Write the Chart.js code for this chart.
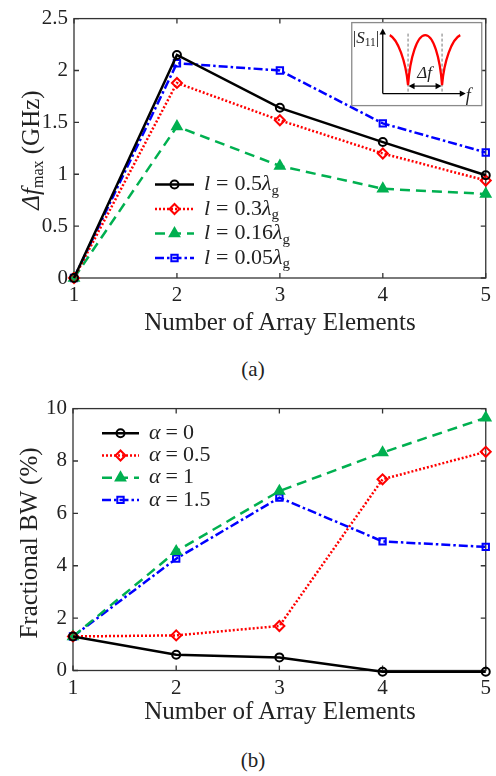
<!DOCTYPE html>
<html>
<head>
<meta charset="utf-8">
<script src="https://cdn.jsdelivr.net/npm/chart.js@4/dist/chart.umd.min.js"></script>
<style>
  html, body { margin: 0; padding: 0; background: #fff; }
  body { width: 496px; height: 776px; position: relative; overflow: hidden; font-family: "Liberation Serif", "Times New Roman", serif; color: #222; }
  .cv { position: absolute; left: 0; }
  .t { position: absolute; white-space: nowrap; line-height: 1; }
  .xt { font-size: 25px; left: 280px; transform: translateX(-50%); }
  .yt { font-size: 25px; transform: translate(-50%, -50%) rotate(-90deg); }
  .cap { font-size: 21px; left: 253px; transform: translateX(-50%); }
  sub { font-size: 64%; vertical-align: -0.28em; line-height: 0; }
</style>
</head>
<body>
<canvas id="ca" class="cv" width="496" height="310" style="top:0px;width:496px;height:310px"></canvas>
<canvas id="cb" class="cv" width="496" height="310" style="top:390px;width:496px;height:310px"></canvas>

<div class="t yt" style="left:30px;top:150px;"><i>Δf</i><sub>max</sub> (GHz)</div>
<div class="t xt" style="top:309px;">Number of Array Elements</div>
<div class="t cap" style="top:359px;">(a)</div>

<div class="t yt" style="left:28px;top:543px;">Fractional BW (%)</div>
<div class="t xt" style="top:698px;">Number of Array Elements</div>
<div class="t cap" style="top:750px;">(b)</div>

<script>
// ---------- DATA ----------
const xValues = [1, 2, 3, 4, 5];
const xTicks = [1, 2, 3, 4, 5];

// (a) Δf_max (GHz) vs number of array elements
const aNames = ['0.5', '0.3', '0.16', '0.05'];      // l = ... λg
const aBlack = [0, 2.15, 1.64, 1.31, 0.99];
const aRed   = [0, 1.88, 1.52, 1.20, 0.94];
const aGreen = [0, 1.46, 1.08, 0.86, 0.81];
const aBlue  = [0, 2.07, 2.00, 1.49, 1.21];
const aYTicks = [0, 0.5, 1, 1.5, 2, 2.5];

// (b) Fractional BW (%) vs number of array elements
const bNames = ['0', '0.5', '1', '1.5'];            // α = ...
const bBlack = [1.3, 0.6, 0.5, -0.05, -0.05];
const bRed   = [1.3, 1.34, 1.7, 7.3, 8.35];
const bGreen = [1.3, 4.55, 6.85, 8.32, 9.65];
const bBlue  = [1.3, 4.27, 6.6, 4.93, 4.72];
const bYTicks = [0, 2, 4, 6, 8, 10];

// ---------- STYLE ----------
const FONT = '"Liberation Serif", "Times New Roman", serif';
const TXT = '#222222';
const AX = '#333333';
const styles = [
  { color: '#000000', dash: [],            point: 'circle',  r: 4.0, bg: 'rgba(0,0,0,0)' },
  { color: '#ff0000', dash: [2, 2],        point: 'rectRot', r: 5.0, bg: 'rgba(0,0,0,0)' },
  { color: '#00b050', dash: [10, 6],       point: 'triangle',r: 5.4, bg: '#00b050' },
  { color: '#0000ff', dash: [9, 3, 2.5, 3],point: 'rect',    r: 4.5, bg: 'rgba(0,0,0,0)' }
];

function mkDataset(vals, st) {
  return {
    data: xValues.map((x, i) => ({ x: x, y: vals[i] })),
    borderColor: st.color,
    borderWidth: 2.5,
    borderDash: st.dash,
    pointStyle: st.point,
    pointRadius: st.r,
    pointBorderWidth: 2,
    pointBorderColor: st.color,
    pointBackgroundColor: st.bg,
    fill: false,
    tension: 0,
    clip: false
  };
}

const frame = {
  id: 'frame',
  beforeDatasetsDraw(chart) {
    const { ctx, chartArea: a, scales } = chart;
    ctx.save();
    ctx.strokeStyle = AX;
    ctx.lineWidth = 1.3;
    ctx.setLineDash([]);
    ctx.strokeRect(a.left, a.top, a.right - a.left, a.bottom - a.top);
    const L = 5;
    ctx.beginPath();
    scales.x.ticks.forEach(t => {
      const p = scales.x.getPixelForValue(t.value);
      ctx.moveTo(p, a.bottom); ctx.lineTo(p, a.bottom - L);
      ctx.moveTo(p, a.top); ctx.lineTo(p, a.top + L);
    });
    scales.y.ticks.forEach(t => {
      const p = scales.y.getPixelForValue(t.value);
      ctx.moveTo(a.left, p); ctx.lineTo(a.left + L, p);
      ctx.moveTo(a.right, p); ctx.lineTo(a.right - L, p);
    });
    ctx.stroke();
    ctx.restore();
  }
};

function drawRich(ctx, parts, x, y, size) {
  parts.forEach(p => {
    if (p.gap) { x += p.gap; return; }
    const fs = p.sub ? size * 0.68 : size;
    ctx.font = (p.it ? 'italic ' : '') + fs + 'px ' + FONT;
    ctx.fillText(p.t, x, p.sub ? y + size * 0.28 : y);
    x += ctx.measureText(p.t).width;
  });
  return x;
}

function drawMarker(ctx, st, x, y) {
  ctx.save();
  ctx.setLineDash([]);
  ctx.strokeStyle = st.color;
  ctx.fillStyle = st.bg;
  ctx.lineWidth = 2;
  if (Chart.helpers && Chart.helpers.drawPoint) {
    Chart.helpers.drawPoint(ctx, { pointStyle: st.point, radius: st.r, borderWidth: 2, rotation: 0 }, x, y);
  }
  ctx.restore();
}

function legendPlugin(id, cfg) {
  return {
    id: id,
    afterDatasetsDraw(chart) {
      const ctx = chart.ctx;
      ctx.save();
      cfg.items.forEach((parts, i) => {
        const st = styles[i];
        const y = cfg.y0 + i * cfg.dy;
        ctx.strokeStyle = st.color;
        ctx.lineWidth = 2.5;
        ctx.setLineDash(st.dash);
        ctx.beginPath();
        ctx.moveTo(cfg.x0, y); ctx.lineTo(cfg.x1, y);
        ctx.stroke();
        drawMarker(ctx, st, (cfg.x0 + cfg.x1) / 2, y);
        ctx.fillStyle = TXT;
        ctx.textBaseline = 'middle';
        ctx.textAlign = 'left';
        drawRich(ctx, parts, cfg.tx, y, cfg.size);
      });
      ctx.restore();
    }
  };
}

function arrowHead(ctx, x, y, dir) {
  const s = 6, w = 3.2;
  ctx.beginPath();
  if (dir === 'up') { ctx.moveTo(x, y); ctx.lineTo(x - w, y + s); ctx.lineTo(x + w, y + s); }
  if (dir === 'right') { ctx.moveTo(x, y); ctx.lineTo(x - s, y - w); ctx.lineTo(x - s, y + w); }
  if (dir === 'left') { ctx.moveTo(x, y); ctx.lineTo(x + s, y - w); ctx.lineTo(x + s, y + w); }
  ctx.closePath();
  ctx.fill();
}

const inset = {
  id: 'inset',
  afterDatasetsDraw(chart) {
    const { ctx, chartArea: a } = chart;
    const L = a.right - 134, T = a.top + 4;   // inset box origin
    ctx.save();
    ctx.setLineDash([]);
    ctx.fillStyle = '#ffffff';
    ctx.fillRect(L, T, 130, 83);
    ctx.strokeStyle = '#8a8a8a';
    ctx.lineWidth = 1.3;
    ctx.strokeRect(L, T, 130, 83);
    const ox = L + 31, oy = T + 71;          // inset axes origin
    ctx.strokeStyle = '#000'; ctx.fillStyle = '#000'; ctx.lineWidth = 1.3;
    ctx.beginPath(); ctx.moveTo(ox, oy); ctx.lineTo(ox, T + 9); ctx.stroke();
    arrowHead(ctx, ox, T + 6, 'up');
    ctx.beginPath(); ctx.moveTo(ox, oy); ctx.lineTo(L + 110, oy); ctx.stroke();
    arrowHead(ctx, L + 114, oy, 'right');
    const n1 = L + 56.3, n2 = L + 90.3, pk = L + 73.5, top = T + 12.5, bot = T + 62.5;
    ctx.strokeStyle = '#777'; ctx.lineWidth = 1; ctx.setLineDash([3, 2]);
    ctx.beginPath();
    ctx.moveTo(n1, T + 11); ctx.lineTo(n1, oy - 2);
    ctx.moveTo(n2, T + 11); ctx.lineTo(n2, oy - 2);
    ctx.stroke();
    ctx.setLineDash([]);
    ctx.strokeStyle = '#ff0000'; ctx.lineWidth = 2.3;
    ctx.beginPath();
    ctx.moveTo(L + 38, top);
    ctx.bezierCurveTo(L + 46, top + 4, L + 54, bot - 24, n1, bot);
    ctx.bezierCurveTo(n1 + 2, bot - 28, pk - 8, top, pk, top);
    ctx.bezierCurveTo(pk + 8, top, n2 - 2, bot - 28, n2, bot);
    ctx.bezierCurveTo(n2 + 2, bot - 24, L + 100, top + 4, L + 108.5, top);
    ctx.stroke();
    ctx.strokeStyle = '#000'; ctx.fillStyle = '#000'; ctx.lineWidth = 1.2;
    const ya = T + 63.5;
    ctx.beginPath(); ctx.moveTo(n1 + 5, ya); ctx.lineTo(n2 - 5, ya); ctx.stroke();
    arrowHead(ctx, n1 + 0.5, ya, 'left');
    arrowHead(ctx, n2 - 0.5, ya, 'right');
    ctx.fillStyle = TXT;
    ctx.textBaseline = 'middle'; ctx.textAlign = 'left';
    drawRich(ctx, [{ t: '|' }, { t: 'S', it: 1 }, { t: '11', sub: 1 }, { t: '|' }], L + 1, T + 16, 17);
    drawRich(ctx, [{ t: 'Δf', it: 1 }], pk - 8, T + 51, 17);
    drawRich(ctx, [{ t: 'f', it: 1 }], L + 114, oy + 3, 18);
    ctx.restore();
  }
};

function mkChart(id, sets, yMin, yMax, yTicks, leftW, bottomH, extraPlugins) {
  return new Chart(document.getElementById(id), {
    type: 'line',
    data: { datasets: sets.map((v, i) => mkDataset(v, styles[i])) },
    options: {
      responsive: false,
      animation: false,
      devicePixelRatio: 1,
      events: [],
      layout: { padding: { top: 15, right: 10, left: 0, bottom: 0 } },
      plugins: { legend: { display: false }, tooltip: { enabled: false } },
      scales: {
        x: {
          type: 'linear', min: 1, max: 5,
          afterBuildTicks: s => { s.ticks = xTicks.map(v => ({ value: v })); },
          afterFit: s => { s.height = bottomH; },
          grid: { display: false, drawTicks: false },
          border: { display: false },
          ticks: { color: TXT, font: { family: FONT, size: 21 }, padding: 5, maxRotation: 0, callback: v => String(v) }
        },
        y: {
          type: 'linear', min: yMin, max: yMax,
          afterBuildTicks: s => { s.ticks = yTicks.map(v => ({ value: v })); },
          afterFit: s => { s.width = leftW; },
          grid: { display: false, drawTicks: false },
          border: { display: false },
          ticks: { color: TXT, font: { family: FONT, size: 21 }, padding: 6, callback: v => String(v) }
        }
      }
    },
    plugins: [frame].concat(extraPlugins)
  });
}

const aLegendParts = aNames.map(n => [{ t: 'l', it: 1 }, { gap: 6 }, { t: '=' }, { gap: 6 }, { t: n }, { t: 'λ', it: 1 }, { t: 'g', sub: 1 }]);
const bLegendParts = bNames.map(n => [{ t: 'α', it: 1 }, { gap: 5 }, { t: '=' }, { gap: 5 }, { t: n }]);

mkChart('ca', [aBlack, aRed, aGreen, aBlue], 0, 2.5, aYTicks, 74, 32,
  [inset, legendPlugin('legA', { x0: 155, x1: 194, tx: 204, y0: 184.5, dy: 24.5, size: 22, items: aLegendParts })]);

mkChart('cb', [bBlack, bRed, bGreen, bBlue], 0, 10, bYTicks, 73, 29.5,
  [legendPlugin('legB', { x0: 102, x1: 139, tx: 149, y0: 43.3, dy: 22.2, size: 22, items: bLegendParts })]);
</script>
</body>
</html>
